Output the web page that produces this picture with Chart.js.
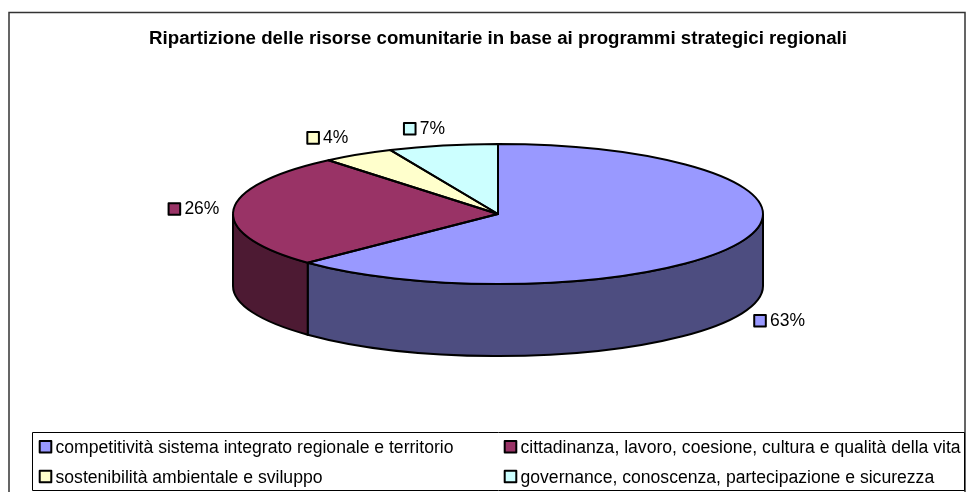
<!DOCTYPE html>
<html>
<head>
<meta charset="utf-8">
<title>Ripartizione delle risorse comunitarie</title>
<script src="https://cdn.jsdelivr.net/npm/chart.js@4"></script>
<style>
    html, body { margin: 0; padding: 0; background: #fff; }
    canvas { display: block; }
</style>
</head>
<body>
<canvas id="pieChart" width="974" height="492"></canvas>
<script>
const chartTitle = "Ripartizione delle risorse comunitarie in base ai programmi strategici regionali";
const categories = [
    "competitività sistema integrato regionale e territorio",
    "cittadinanza, lavoro, coesione, cultura e qualità della vita",
    "sostenibilità ambientale e sviluppo",
    "governance, conoscenza, partecipazione e sicurezza"
];
// labels show them rounded
const shares = [62.75, 26.2, 4.4, 6.65];
const topColors = ["#9999FF", "#993366", "#FFFFCC", "#CCFFFF"];
const wallColors = ["#4D4D80", "#4D1A33", "#80806A", "#6A8080"];

// look of the tilted pie
const FONT = "'Liberation Sans', Arial, sans-serif";
const RADIUS = 265;
const TILT = 70 / 265;
const DEPTH = 72;
const LINE = "#000";
// label offset from the rim of each slice
const labelNudge = [[18, 7.4], [-59, -1.3], [-45, -16.7], [-33.3, -16.8]];

function rim(arc) {
    const p = arc.getProps(["x", "y", "startAngle", "endAngle", "outerRadius"], true);
    return { x: p.x, y: p.y, a: p.startAngle, b: p.endAngle, r: p.outerRadius };
}

function swatch(ctx, cx, cy, color) {
    ctx.fillStyle = color;
    ctx.strokeStyle = "#000";
    ctx.lineWidth = 2;
    ctx.fillRect(cx - 5.8, cy - 5.8, 11.6, 11.6);
    ctx.strokeRect(cx - 5.8, cy - 5.8, 11.6, 11.6);
}

const pie3d = {
    id: "pie3d",
    beforeDraw(chart) {
        const ctx = chart.ctx;
        ctx.save();
        ctx.fillStyle = "#fff";
        ctx.fillRect(0, 0, chart.width, chart.height);
        // outer frame
        ctx.strokeStyle = "#333";
        ctx.lineWidth = 1.5;
        ctx.beginPath();
        ctx.moveTo(9, 492);
        ctx.lineTo(9, 12.5);
        ctx.lineTo(965, 12.5);
        ctx.lineTo(965, 492);
        ctx.stroke();
        ctx.restore();
    },
    beforeDatasetsDraw(chart) {
        const ctx = chart.ctx;
        const arcs = chart.getDatasetMeta(0).data;
        ctx.save();
        ctx.lineWidth = 2;
        ctx.strokeStyle = LINE;
        // side walls, only the front half shows
        arcs.forEach((arc, i) => {
            const s = rim(arc);
            const a = Math.max(s.a, 0);
            const b = Math.min(s.b, Math.PI);
            if (b <= a) return;
            ctx.beginPath();
            ctx.ellipse(s.x, s.y, s.r, s.r * TILT, 0, a, b);
            ctx.ellipse(s.x, s.y + DEPTH, s.r, s.r * TILT, 0, b, a, true);
            ctx.closePath();
            ctx.fillStyle = wallColors[i];
            ctx.fill();
            ctx.stroke();
        });
        ctx.restore();
        // squash the library's arcs into an ellipse
        const s0 = rim(arcs[0]);
        ctx.save();
        ctx.translate(s0.x, s0.y);
        ctx.scale(1, TILT);
        ctx.translate(-s0.x, -s0.y);
    },
    afterDatasetsDraw(chart) {
        const ctx = chart.ctx;
        ctx.restore();
        const arcs = chart.getDatasetMeta(0).data;
        ctx.save();
        ctx.lineWidth = 2;
        ctx.strokeStyle = LINE;
        ctx.lineJoin = "round";
        arcs.forEach(arc => {
            const s = rim(arc);
            ctx.beginPath();
            ctx.moveTo(s.x, s.y);
            ctx.ellipse(s.x, s.y, s.r, s.r * TILT, 0, s.a, s.b);
            ctx.closePath();
            ctx.stroke();
        });

        // data labels
        ctx.font = "17.5px " + FONT;
        ctx.textBaseline = "middle";
        ctx.textAlign = "left";
        arcs.forEach((arc, i) => {
            const s = rim(arc);
            const mid = (s.a + s.b) / 2;
            const front = Math.sin(mid) > 0 ? DEPTH : 0;
            const lx = s.x + s.r * Math.cos(mid) + labelNudge[i][0];
            const ly = s.y + s.r * TILT * Math.sin(mid) + front + labelNudge[i][1];
            swatch(ctx, lx, ly, topColors[i]);
            ctx.fillStyle = "#000";
            ctx.fillText(Math.round(shares[i]) + "%", lx + 10, ly + 0.5);
        });

        // legend box
        ctx.strokeStyle = "#000";
        ctx.lineWidth = 1;
        ctx.strokeRect(32.5, 432.5, 932, 58);
        const cols = [45.5, 510.5];
        const rows = [446.7, 476.5];
        ctx.font = "17.6px " + FONT;
        ctx.textBaseline = "alphabetic";
        categories.forEach((label, i) => {
            const cx = cols[i % 2];
            const cy = rows[Math.floor(i / 2)];
            swatch(ctx, cx, cy, topColors[i]);
            ctx.fillStyle = "#000";
            ctx.fillText(label, cx + 10, cy + 6);
        });
        ctx.restore();
    }
};

new Chart(document.getElementById("pieChart"), {
    type: "pie",
    data: {
        labels: categories,
        datasets: [{
            data: shares,
            backgroundColor: topColors,
            borderWidth: 0,
            hoverOffset: 0,
            radius: RADIUS,
            clip: false
        }]
    },
    options: {
        responsive: false,
        animation: false,
        events: [],
        layout: { padding: { left: 22, right: 0, top: 28, bottom: 113.5 } },
        plugins: {
            legend: { display: false },
            tooltip: { enabled: false },
            title: {
                display: true,
                text: chartTitle,
                color: "#000",
                padding: 0,
                font: { family: FONT, size: 18.7, weight: "bold", lineHeight: 1.15 }
            }
        }
    },
    plugins: [pie3d]
});
</script>
</body>
</html>
